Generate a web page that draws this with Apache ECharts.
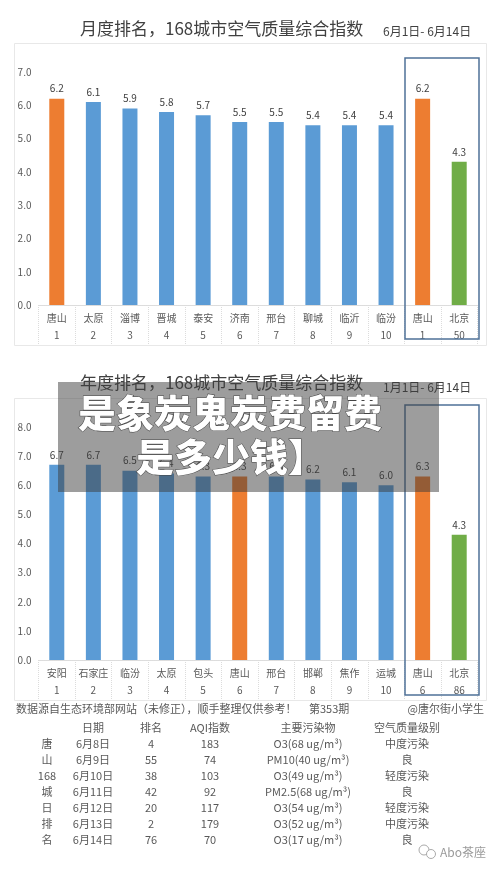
<!DOCTYPE html>
<html>
<head>
<meta charset="utf-8">
<script src="https://cdn.jsdelivr.net/npm/echarts@6/dist/echarts.min.js"></script>
<style>
html,body{margin:0;padding:0;background:#fff;}
#c{width:500px;height:874px;}
</style>
</head>
<body>
<div id="c"></div>
<script>
// ---- data ----
const monthCities = ['唐山','太原','淄博','晋城','泰安','济南','邢台','聊城','临沂','临汾','唐山','北京'];
const monthRanks = ['1','2','3','4','5','6','7','8','9','10','1','50'];
const monthValues = [6.2,6.1,5.9,5.8,5.7,5.5,5.5,5.4,5.4,5.4,6.2,4.3];
const yearCities = ['安阳','石家庄','临汾','太原','包头','唐山','邢台','邯郸','焦作','运城','唐山','北京'];
const yearRanks = ['1','2','3','4','5','6','7','8','9','10','6','86'];
const yearValues = [6.7,6.7,6.5,6.4,6.3,6.3,6.3,6.2,6.1,6.0,6.3,4.3];
const monthTitle = '月度排名，168城市空气质量综合指数';
const monthRange = '6月1日- 6月14日';
const yearTitle = '年度排名，168城市空气质量综合指数';
const yearRange = '1月1日- 6月14日';
const footLeft = '数据源自生态环境部网站（未修正），顺手整理仅供参考！';
const footMid = '第353期';
const footRight = '@唐尔街小学生';
const tableHeaders = ['日期','排名','AQI指数','主要污染物','空气质量级别'];
const tableSide = ['唐','山','168','城','日','排','名'];
const tableDates = ['6月8日','6月9日','6月10日','6月11日','6月12日','6月13日','6月14日'];
const tableRanks = ['4','55','38','42','20','2','76'];
const tableAQI = ['183','74','103','92','117','179','70'];
const tablePollutant = ['O3(68 ug/m³)','PM10(40 ug/m³)','O3(49 ug/m³)','PM2.5(68 ug/m³)','O3(54 ug/m³)','O3(52 ug/m³)','O3(17 ug/m³)'];
const tableLevel = ['中度污染','良','轻度污染','良','轻度污染','中度污染','良'];
const overlayLine1 = '是象炭鬼炭费留费';
const overlayLine2 = '是多少钱】';

// ---- style ----
const FONT = '"Noto Sans CJK SC","Microsoft YaHei",sans-serif';
const BLUE = '#5b9bd5', ORANGE = '#ed7d31', GREEN = '#70ad47';
function colorFor(city){
  if (city === '北京') return GREEN;
  if (city === '唐山') return ORANGE;
  return BLUE;
}
function barData(cities, values){
  return values.map((v,i)=>({value:v, itemStyle:{color:colorFor(cities[i])}}));
}
function xAxisCfg(idx, cities, ranks){
  return {
    type:'category', gridIndex:idx,
    data: cities.map((c,i)=>c+'\n'+ranks[i]),
    axisLine:{show:true, lineStyle:{color:'#d9d9d9', type:'dotted'}},
    axisTick:{show:true, length:40, lineStyle:{color:'#dcdcdc', type:'dotted'}},
    axisLabel:{color:'#595959', fontSize:10, fontFamily:FONT, lineHeight:17, margin:5, interval:0},
    splitLine:{show:false}
  };
}
function yAxisCfg(idx, max){
  return {
    type:'value', gridIndex:idx, min:0, max:max, interval:1,
    axisLine:{show:false}, axisTick:{show:false}, splitLine:{show:false},
    axisLabel:{color:'#595959', fontSize:10, fontFamily:FONT, margin:7, formatter:v=>v.toFixed(1)}
  };
}
function seriesCfg(idx, cities, values){
  return {
    type:'bar', xAxisIndex:idx, yAxisIndex:idx, barWidth:15,
    data: barData(cities, values),
    label:{show:true, position:'top', distance:5, color:'#404040', fontSize:10, fontFamily:FONT, formatter:p=>p.value.toFixed(1)}
  };
}

const graphics = [];
graphics.push({type:'rect', shape:{x:14.5,y:43.5,width:472,height:302}, style:{fill:'none', stroke:'#e8e8e8', lineWidth:1}, z:0});
graphics.push({type:'rect', shape:{x:14.5,y:398.5,width:472,height:302}, style:{fill:'none', stroke:'#e8e8e8', lineWidth:1}, z:0});
graphics.push({type:'rect', shape:{x:405,y:58,width:74,height:281}, style:{fill:'none', stroke:'#4f7198', lineWidth:1.5}, z:10});
graphics.push({type:'rect', shape:{x:405,y:405,width:74,height:290}, style:{fill:'none', stroke:'#4f7198', lineWidth:1.5}, z:10});
function txt(x,y,text,size,color,align){
  return {type:'text', x:x, y:y, style:{text:text, fill:color, font:size+'px '+FONT, textAlign:align||'left', textVerticalAlign:'middle'}, z:20};
}
graphics.push(txt(80,29,monthTitle,17,'#404040'));
graphics.push(txt(383,31,monthRange,12,'#404040'));
graphics.push(txt(80,383,yearTitle,17,'#404040'));
graphics.push(txt(383,387,yearRange,12,'#404040'));
graphics.push(txt(16,709,footLeft,11,'#595959'));
graphics.push(txt(309,709,footMid,11,'#595959'));
graphics.push(txt(484,709,footRight,11,'#595959','right'));
const colX = [93,151,210,308,407];
const sideX = 47;
tableHeaders.forEach((h,i)=>graphics.push(txt(colX[i],728,h,11,'#595959','center')));
const cols = [tableDates, tableRanks, tableAQI, tablePollutant, tableLevel];
for (let r=0;r<tableSide.length;r++){
  const y = 744 + r*16;
  graphics.push(txt(sideX,y,tableSide[r],11,'#595959','center'));
  cols.forEach((col,i)=>graphics.push(txt(colX[i],y,col[r],11,'#595959','center')));
}
graphics.push({type:'circle', shape:{cx:424,cy:850,r:5}, style:{fill:'none', stroke:'#aaa', lineWidth:1}, z:20});
graphics.push({type:'circle', shape:{cx:431,cy:854,r:4.5}, style:{fill:'#fff', stroke:'#aaa', lineWidth:1}, z:21});
graphics.push(txt(440,852,'Abo茶座',12,'#9a9a9a'));
graphics.push({type:'rect', shape:{x:58,y:382,width:381,height:110}, style:{fill:'rgba(60,60,60,0.5)'}, z:50});
graphics.push({type:'text', x:230, y:413, z:51, style:{text:overlayLine1, fill:'#ffffff', font:'900 38px '+FONT, textAlign:'center', textVerticalAlign:'middle', stroke:'#444', lineWidth:1, shadowColor:'rgba(0,0,0,0.6)', shadowBlur:4}});
graphics.push({type:'text', x:231, y:457, z:51, style:{text:overlayLine2, fill:'#ffffff', font:'900 38px '+FONT, textAlign:'center', textVerticalAlign:'middle', stroke:'#444', lineWidth:1, shadowColor:'rgba(0,0,0,0.6)', shadowBlur:4}});

const chart = echarts.init(document.getElementById('c'), null, {renderer:'canvas'});
chart.setOption({
  backgroundColor:'#ffffff',
  animation:false,
  textStyle:{fontFamily:FONT},
  grid:[
    {left:38.5, right:22.5, top:72, height:233},
    {left:38.5, right:22.5, top:427, height:233}
  ],
  xAxis:[xAxisCfg(0, monthCities, monthRanks), xAxisCfg(1, yearCities, yearRanks)],
  yAxis:[yAxisCfg(0,7), yAxisCfg(1,8)],
  series:[seriesCfg(0, monthCities, monthValues), seriesCfg(1, yearCities, yearValues)],
  graphic:graphics
});
</script>
</body>
</html>
